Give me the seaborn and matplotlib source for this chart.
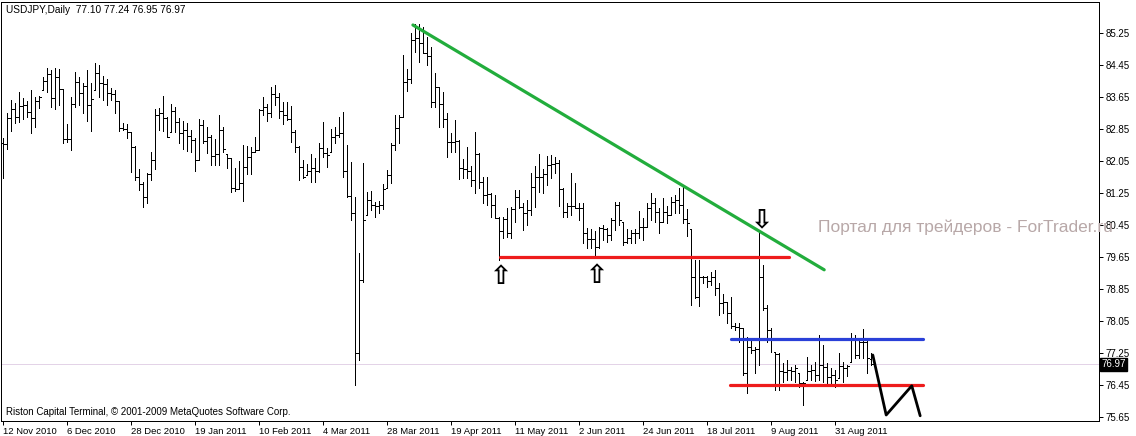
import matplotlib
matplotlib.use('Agg')
import matplotlib.pyplot as plt
import matplotlib.transforms as mtransforms
import seaborn as sns
import numpy as np
import pandas as pd

# daily USDJPY bars, 12 Nov 2010 .. 13 Sep 2011
highs = [82.62, 83.26, 83.58, 83.49, 83.77, 83.62, 83.56, 83.83, 83.66, 83.68,
         84.16, 84.38, 84.33, 84.38, 84.35, 83.84, 82.98, 83.66, 84.28, 84.16,
         83.99, 84.33, 83.99, 84.49, 84.45, 84.18, 84.09, 83.87, 83.83, 83.56,
         82.99, 82.98, 82.78, 82.43, 81.85, 81.53, 81.74, 82.28, 83.34, 83.37,
         83.68, 83.16, 83.48, 83.41, 83.12, 83.06, 83.01, 82.83, 82.62, 83.09,
         83.08, 82.89, 82.70, 82.59, 83.20, 82.91, 82.23, 82.12, 81.87, 82.06,
         82.45, 82.43, 82.41, 82.64, 83.34, 83.66, 83.48, 83.91, 83.95, 83.74,
         83.53, 83.53, 83.43, 82.83, 82.43, 82.08, 81.98, 82.23, 82.12, 82.49,
         83.03, 82.37, 82.84, 82.89, 83.16, 83.28, 82.45, 82.03, 81.16, 79.74,
         81.99, 81.28, 81.31, 81.03, 81.06, 81.47, 81.83, 82.49, 83.20, 83.20,
         84.70, 84.34, 85.24, 85.48, 85.48, 85.41, 85.16, 84.91, 84.24, 83.91,
         83.78, 83.24, 82.74, 83.08, 82.58, 82.09, 82.39, 81.93, 82.78, 82.24,
         81.66, 81.66, 81.24, 81.20, 80.66, 80.66, 80.87, 80.91, 81.33, 81.33,
         80.99, 81.08, 81.74, 81.93, 82.23, 81.84, 82.18, 82.20, 82.16, 82.08,
         81.37, 80.99, 81.74, 81.49, 80.99, 80.99, 80.37, 80.34, 80.29, 80.39,
         80.45, 80.37, 80.62, 81.03, 81.03, 80.53, 80.34, 80.33, 80.34, 80.81,
         80.62, 80.99, 81.24, 81.12, 80.87, 81.12, 80.93, 81.16, 81.20, 81.37,
         81.45, 80.84, 80.34, 79.58, 79.58, 79.18, 79.18, 79.28, 79.33, 78.99,
         78.73, 78.53, 78.66, 77.99, 78.01, 77.87, 77.66, 77.62, 77.41, 80.28,
         79.45, 78.45, 77.87, 77.28, 77.26, 76.99, 77.08, 76.91, 76.95, 76.74,
         76.53, 77.16, 76.95, 77.03, 77.70, 77.45, 76.99, 76.87, 76.83, 77.24,
         77.03, 76.95, 77.74, 77.70, 77.58, 77.84, 77.58, 77.24]
lows = [81.62, 82.35, 82.81, 82.99, 83.03, 83.10, 83.16, 82.74, 82.91, 83.37,
        83.83, 83.78, 83.39, 83.35, 83.45, 82.49, 82.53, 82.33, 83.41, 83.45,
        83.24, 83.06, 82.81, 83.83, 83.66, 83.58, 83.45, 83.58, 83.24, 82.81,
        82.83, 82.62, 81.78, 81.58, 81.33, 80.91, 81.01, 81.58, 81.84, 82.83,
        82.81, 82.64, 82.78, 82.77, 82.51, 82.35, 82.30, 82.28, 81.81, 82.08,
        82.49, 82.26, 81.95, 81.95, 81.95, 82.27, 81.87, 81.28, 81.31, 81.37,
        81.06, 81.73, 81.73, 82.28, 82.33, 83.20, 83.06, 83.16, 83.45, 83.12,
        82.98, 83.08, 82.53, 82.28, 81.58, 81.62, 81.70, 81.53, 81.53, 81.78,
        82.14, 81.91, 82.28, 82.49, 82.64, 81.66, 81.16, 80.58, 76.45, 77.08,
        79.03, 80.70, 80.83, 80.66, 80.74, 80.84, 81.37, 81.51, 82.33, 82.51,
        83.16, 83.81, 84.01, 84.78, 84.53, 84.74, 84.45, 83.41, 83.41, 82.91,
        82.91, 82.14, 82.28, 82.28, 81.59, 81.62, 81.62, 81.43, 81.24, 81.37,
        81.01, 80.95, 80.66, 80.62, 79.58, 80.12, 80.16, 80.12, 80.53, 80.87,
        80.33, 80.45, 80.70, 80.91, 81.28, 81.24, 81.45, 81.62, 81.74, 80.93,
        80.66, 80.66, 80.70, 80.87, 80.58, 79.99, 79.87, 79.87, 79.70, 79.87,
        80.08, 80.03, 80.08, 80.33, 80.45, 79.95, 79.99, 79.99, 80.01, 80.12,
        80.08, 80.41, 80.58, 80.53, 80.24, 80.53, 80.51, 80.70, 80.74, 80.76,
        80.49, 80.18, 78.45, 78.62, 78.43, 78.99, 78.91, 78.95, 78.70, 78.20,
        78.26, 78.01, 77.87, 77.83, 77.53, 76.70, 76.26, 77.24, 76.76, 76.95,
        78.33, 77.53, 77.28, 76.33, 76.33, 76.53, 76.58, 76.58, 76.53, 76.41,
        75.95, 76.58, 76.58, 76.55, 76.58, 76.53, 76.45, 76.49, 76.41, 76.62,
        76.53, 76.68, 77.03, 77.12, 77.12, 77.12, 76.74, 76.95]
opens = [82.50, 82.47, 83.12, 83.35, 83.15, 83.43, 83.45, 83.28, 83.12, 83.55,
         83.83, 84.05, 84.23, 83.63, 84.14, 83.84, 82.59, 82.59, 83.48, 84.02,
         83.74, 83.93, 83.45, 83.83, 84.26, 83.99, 83.97, 83.76, 83.72, 83.55,
         82.88, 82.86, 82.78, 82.41, 81.64, 81.48, 81.16, 81.72, 82.08, 83.20,
         83.26, 83.12, 82.78, 83.30, 83.02, 82.74, 82.83, 82.68, 82.58, 82.08,
         82.95, 82.54, 82.64, 82.18, 82.23, 82.83, 82.23, 82.12, 81.37, 81.34,
         81.51, 81.90, 82.16, 82.28, 82.33, 83.33, 83.39, 83.26, 83.73, 83.64,
         83.30, 83.20, 83.10, 82.78, 82.41, 81.89, 81.70, 81.81, 81.87, 81.81,
         82.38, 82.26, 82.28, 82.66, 82.70, 82.74, 81.81, 81.18, 80.74, 77.24,
         79.08, 80.70, 81.08, 80.95, 80.93, 80.95, 81.37, 81.70, 82.45, 82.87,
         83.16, 84.03, 84.09, 85.08, 85.12, 84.99, 84.74, 84.68, 83.53, 83.89,
         83.48, 83.09, 82.53, 82.53, 82.55, 81.87, 81.84, 81.81, 81.58, 82.23,
         81.53, 81.20, 81.22, 80.94, 80.62, 80.30, 80.59, 80.26, 80.85, 81.16,
         80.91, 80.74, 80.83, 81.39, 81.66, 81.66, 81.72, 81.95, 81.98, 82.01,
         81.34, 80.78, 80.93, 80.93, 80.87, 80.87, 80.24, 80.09, 80.09, 79.89,
         80.37, 80.34, 80.20, 80.58, 80.95, 80.53, 80.03, 80.12, 80.24, 80.24,
         80.39, 80.41, 80.87, 80.99, 80.78, 80.53, 80.78, 80.70, 81.03, 81.08,
         80.95, 80.59, 80.34, 79.14, 78.66, 79.14, 79.14, 79.06, 79.14, 78.87,
         78.51, 78.53, 78.24, 77.93, 77.89, 77.87, 76.76, 77.41, 77.33, 77.35,
         79.16, 78.37, 77.83, 77.28, 77.23, 76.81, 76.78, 76.83, 76.81, 76.74,
         76.51, 76.58, 76.81, 76.83, 76.70, 76.95, 76.89, 76.66, 76.70, 76.62,
         76.93, 76.87, 77.03, 77.58, 77.20, 77.53, 77.53, 77.10]
closes = [82.47, 83.12, 83.35, 83.15, 83.43, 83.45, 83.28, 83.12, 83.55, 83.66,
          84.05, 84.23, 83.63, 84.14, 83.84, 82.59, 82.59, 83.48, 84.02, 83.74,
          83.93, 83.45, 83.61, 84.26, 83.99, 83.97, 83.76, 83.72, 83.55, 82.88,
          82.86, 82.78, 82.41, 81.64, 81.48, 81.16, 81.72, 82.08, 83.20, 83.26,
          83.12, 82.66, 83.30, 83.02, 82.74, 82.83, 82.68, 82.58, 82.08, 82.95,
          82.54, 82.64, 82.18, 82.23, 82.83, 82.35, 82.12, 81.37, 81.34, 81.51,
          81.90, 82.16, 82.28, 82.33, 83.33, 83.39, 83.26, 83.73, 83.64, 83.30,
          83.20, 83.10, 82.78, 82.41, 81.89, 81.66, 81.81, 81.87, 81.81, 82.38,
          82.26, 82.20, 82.66, 82.70, 82.74, 81.81, 81.18, 80.74, 77.24, 79.08,
          80.58, 81.08, 80.95, 80.93, 80.95, 81.34, 81.70, 82.45, 82.87, 83.16,
          84.03, 84.09, 85.08, 85.12, 84.99, 84.74, 84.68, 83.53, 83.89, 83.48,
          83.09, 82.53, 82.53, 82.55, 81.87, 81.84, 81.81, 81.58, 82.23, 81.53,
          81.20, 81.22, 80.94, 80.62, 80.30, 80.59, 80.26, 80.85, 81.16, 80.91,
          80.74, 80.83, 81.39, 81.66, 81.66, 81.72, 81.95, 81.98, 82.01, 81.34,
          80.78, 80.93, 80.93, 80.87, 80.87, 80.24, 80.09, 80.09, 79.89, 80.37,
          80.34, 80.20, 80.58, 80.95, 80.58, 80.03, 80.12, 80.24, 80.24, 80.39,
          80.39, 80.87, 80.99, 80.78, 80.53, 80.78, 80.70, 81.03, 81.08, 80.95,
          80.59, 80.49, 79.14, 78.66, 79.14, 79.14, 79.06, 79.14, 78.87, 78.51,
          78.53, 78.24, 77.93, 77.89, 77.87, 76.76, 77.41, 77.33, 77.35, 79.16,
          78.37, 77.83, 77.58, 77.23, 76.81, 76.78, 76.83, 76.81, 76.87, 76.51,
          76.51, 76.81, 76.83, 76.70, 76.95, 76.89, 76.66, 76.70, 76.58, 76.93,
          76.87, 76.93, 77.58, 77.20, 77.53, 77.53, 77.12, 76.97]

date_labels = ["12 Nov 2010", "6 Dec 2010", "28 Dec 2010", "19 Jan 2011",
               "10 Feb 2011", "4 Mar 2011", "28 Mar 2011", "19 Apr 2011",
               "11 May 2011", "2 Jun 2011", "24 Jun 2011", "18 Jul 2011",
               "9 Aug 2011", "31 Aug 2011"]
price_ticks = [85.25, 84.45, 83.65, 82.85, 82.05, 81.25, 80.45,
               79.65, 78.85, 78.05, 77.25, 76.45, 75.65]
last_price = 76.97

# hand-drawn objects (bar index, price)
green_x, green_y = [102.4, 205.2], [85.45, 79.33]
red1_x, red1_y = [124.2, 196.4], [79.64, 79.64]
red2_x, red2_y = [181.7, 229.9], [76.45, 76.45]
blue_x, blue_y = [182.0, 229.8], [77.59, 77.59]
zig_x = [217.35, 220.7, 227.1, 229.2]
zig_y = [77.20, 75.70, 76.43, 75.68]
up_arrows_x, up_arrows_y = [124.2, 148.2], [79.16, 79.18]
down_arrow_x, down_arrow_y = [189.4], [80.56]

W, H = 1136, 436
PX = 72 / 100  # one pixel in points

sns.set_theme(style='white')
plt.rcParams['font.family'] = ['Liberation Sans', 'DejaVu Sans']

fig = plt.figure(figsize=(W / 100, H / 100), dpi=100)
ax = fig.add_axes([1 / W, 1 - 420.5 / H, 1098 / W, 418.5 / H])

df = pd.DataFrame({'o': opens, 'h': highs, 'l': lows, 'c': closes})
df['x'] = np.arange(len(df))

ax.vlines(df['x'], df['l'], df['h'], color='black', lw=PX, antialiased=False)
ax.hlines(df['o'], df['x'] - 0.45, df['x'], color='black', lw=PX, antialiased=False)
ax.hlines(df['c'], df['x'], df['x'] + 0.45, color='black', lw=PX, antialiased=False)

# current price line
ax.axhline(last_price, color='#c8a8d0', lw=PX, ls=(0, (1, 1)), zorder=0)

lw = 2.3
sns.lineplot(x=green_x, y=green_y, ax=ax, color='#22ad3c', lw=lw, sort=False)
sns.lineplot(x=red1_x, y=red1_y, ax=ax, color='#ee1c1c', lw=lw, sort=False)
sns.lineplot(x=red2_x, y=red2_y, ax=ax, color='#ee1c1c', lw=lw, sort=False)
sns.lineplot(x=blue_x, y=blue_y, ax=ax, color='#2a40d8', lw=lw, sort=False)
sns.lineplot(x=zig_x, y=zig_y, ax=ax, color='black', lw=2.0, sort=False)

for x, y in zip(up_arrows_x, up_arrows_y):
    ax.text(x, y, '\u21e7', ha='center', va='center', fontsize=19,
            family='DejaVu Sans', fontweight='bold', color='black')
for x, y in zip(down_arrow_x, down_arrow_y):
    ax.text(x, y, '\u21e9', ha='center', va='center', fontsize=19,
            family='DejaVu Sans', fontweight='bold', color='black')

ax.text(203.7, 80.39, 'Портал для трейдеров - ForTrader.ru', ha='left',
        va='center', fontsize=12.5, color='#b8a8a8', clip_on=False, zorder=10)

ax.set_xlim(-0.575, 273.9)
ax.set_ylim(75.5625, 86.025)

ax.yaxis.tick_right()
ax.set_yticks(price_ticks)
ax.set_yticklabels([f'{p:.2f}' for p in price_ticks])
ax.tick_params(axis='y', direction='out', length=3, width=PX, pad=1.5,
               labelsize=7, colors='black', right=True, left=False)
ax.set_xticks(np.arange(0, 16 * len(date_labels), 16))
ax.set_xticklabels(date_labels, ha='left')
ax.tick_params(axis='x', direction='out', length=3, width=PX, pad=1.5,
               labelsize=6.8, colors='black', bottom=True)

for s in ax.spines.values():
    s.set_color('black')
    s.set_linewidth(PX)
ax.grid(False)
ax.set_xlabel('')
ax.set_ylabel('')

# last price marker on the scale
trans = mtransforms.blended_transform_factory(ax.transAxes, ax.transData)
ax.text(1.002, last_price, f'{last_price:.2f}', transform=trans, ha='left',
        va='center', fontsize=7, color='white', clip_on=False, zorder=11,
        bbox=dict(boxstyle='square,pad=0.15', fc='black', ec='black'))

fig.text(6 / W, 1 - 10 / H, 'USDJPY,Daily  77.10 77.24 76.95 76.97',
         ha='left', va='center', fontsize=7.3, color='black')
fig.text(6 / W, 1 - 412 / H,
         'Riston Capital Terminal, © 2001-2009 MetaQuotes Software Corp.',
         ha='left', va='center', fontsize=7, color='black')

fig.savefig('out.png', dpi=100, facecolor='white')
